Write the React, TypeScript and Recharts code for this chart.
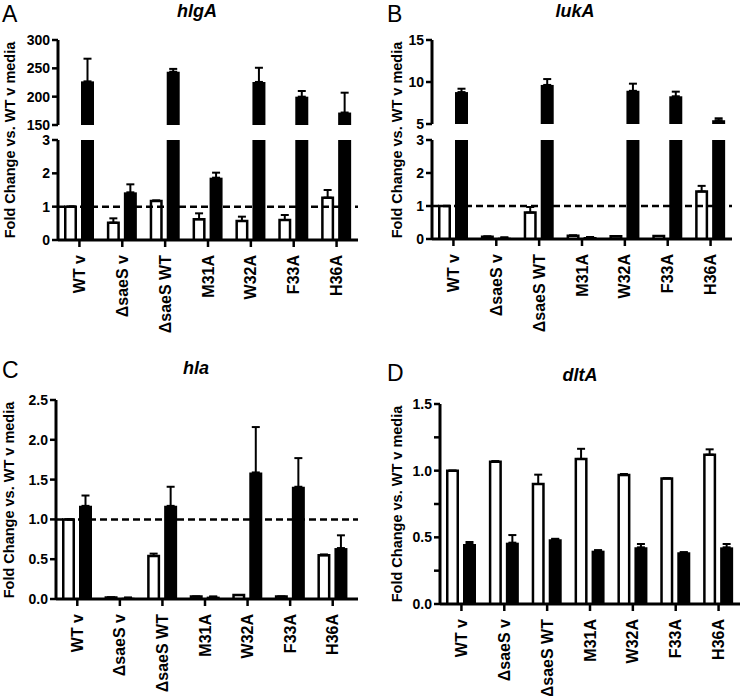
import { BarChart, Bar, XAxis, YAxis, ReferenceLine, ErrorBar } from "recharts";

const FONT = "'Liberation Sans', Arial, Helvetica, sans-serif";

const categories = ["WT v", "\u0394saeS v", "\u0394saeS WT", "M31A", "W32A", "F33A", "H36A"];

// hlgA (split axis)
const hlgaOpen = [1.0, 0.52, 1.17, 0.62, 0.57, 0.6, 1.27];
const hlgaOpenErr = [0, 0.13, 0.02, 0.18, 0.13, 0.15, 0.23];
const hlgaFilled = [227, 1.43, 244, 1.87, 226, 200, 172];
const hlgaFilledErr = [40, 0.24, 5, 0.15, 25, 10, 35];

// lukA (split axis)
const lukaOpen = [1.0, 0.07, 0.8, 0.1, 0.08, 0.09, 1.44];
const lukaOpenErr = [0, 0.01, 0.17, 0.01, 0, 0, 0.17];
const lukaFilled = [8.8, 0.04, 9.65, 0.06, 8.95, 8.3, 5.45];
const lukaFilledErr = [0.4, 0.01, 0.7, 0, 0.85, 0.55, 0.23];

// hla
const hlaOpen = [1.0, 0.02, 0.54, 0.03, 0.05, 0.03, 0.55];
const hlaOpenErr = [0, 0, 0.03, 0, 0, 0, 0.01];
const hlaFilled = [1.17, 0.017, 1.17, 0.03, 1.59, 1.41, 0.64];
const hlaFilledErr = [0.13, 0, 0.24, 0, 0.57, 0.36, 0.16];

// dltA
const dltaOpen = [1.0, 1.066, 0.9, 1.088, 0.967, 0.942, 1.12];
const dltaOpenErr = [0, 0.006, 0.07, 0.076, 0.008, 0, 0.04];
const dltaFilled = [0.45, 0.46, 0.485, 0.4, 0.425, 0.388, 0.425];
const dltaFilledErr = [0.015, 0.057, 0.004, 0.004, 0.025, 0, 0.025];

const hlgaUpperTicks = [150, 200, 250, 300];
const hlgaLowerTicks = [0, 1, 2, 3];
const lukaUpperTicks = [5, 10, 15];
const lukaLowerTicks = [0, 1, 2, 3];
const hlaTicks = [0, 0.5, 1.0, 1.5, 2.0, 2.5];
const dltaTicks = [0, 0.25, 0.5, 0.75, 1.0, 1.25, 1.5];

type Row = {
  name: string;
  open: number | null;
  openErr: [number, number] | null;
  filled: number | null;
  filledErr: [number, number] | null;
};

// bottom part of a split axis (or a whole axis): tall bars get clipped at the top
function lowerRows(open: number[], openErr: number[], filled: number[], filledErr: number[], max = Infinity): Row[] {
  return categories.map((name, i) => ({
    name,
    open: open[i],
    openErr: open[i] <= max ? [0, openErr[i]] : null,
    filled: filled[i],
    filledErr: filled[i] <= max ? [0, filledErr[i]] : null,
  }));
}

// top part of a split axis: only the bars that reach it
function upperRows(filled: number[], filledErr: number[], min: number): Row[] {
  return categories.map((name, i) => ({
    name,
    open: null,
    openErr: null,
    filled: filled[i] > min ? filled[i] : null,
    filledErr: filled[i] > min ? [0, filledErr[i]] : null,
  }));
}

// white bar with the outline kept inside the bar width, open at the base
const OpenBar = (props: any) => {
  const { x, y, width, height } = props;
  if (x == null || y == null || !width) return null;
  const top = Math.min(y, y + height);
  const bottom = Math.max(y, y + height);
  const x0 = x + 1.25;
  const x1 = x + width - 1.25;
  return (
    <path
      d={`M${x0},${bottom} L${x0},${top} L${x1},${top} L${x1},${bottom}`}
      fill="#fff"
      stroke="#000"
      strokeWidth={2.5}
    />
  );
};

const RotTick = (props: any) => {
  const { x, y, payload } = props;
  return (
    <text
      x={x}
      y={y}
      transform={`rotate(-90 ${x} ${y})`}
      textAnchor="end"
      dominantBaseline="central"
      fill="#000"
      fontSize={16}
      fontWeight="bold"
      fontFamily={FONT}
    >
      {payload.value}
    </text>
  );
};

type SectionProps = {
  plotLeft: number;
  plotTop: number;
  plotWidth: number;
  plotHeight: number;
  data: Row[];
  domain: [number, number];
  ticks: number[];
  fmt?: (v: number) => string;
  showX?: boolean;
  refLine?: boolean;
  padRight?: number;
};

const Section = ({
  plotLeft,
  plotTop,
  plotWidth,
  plotHeight,
  data,
  domain,
  ticks,
  fmt,
  showX = false,
  refLine = false,
  padRight = 0,
}: SectionProps) => {
  const yw = 50;
  const mt = 12;
  const mr = 4;
  const xh = showX ? 110 : 0;
  const mb = showX ? 0 : 8;
  const width = yw + plotWidth + mr;
  const height = mt + plotHeight + xh + mb;

  return (
    <div style={{ position: "absolute", left: plotLeft - yw, top: plotTop - mt }}>
      <BarChart
        width={width}
        height={height}
        data={data}
        margin={{ top: mt, right: mr, bottom: mb, left: 0 }}
        barSize={13}
        barGap={4}
      >
        <XAxis
          dataKey="name"
          hide={!showX}
          interval={0}
          height={xh || 1}
          padding={{ left: 0, right: padRight }}
          tickSize={7}
          tickMargin={8}
          axisLine={{ stroke: "#000", strokeWidth: 3 }}
          tickLine={{ stroke: "#000", strokeWidth: 2.5 }}
          tick={<RotTick />}
        />
        <YAxis
          type="number"
          width={yw}
          domain={domain}
          ticks={ticks}
          interval={0}
          allowDataOverflow
          tickFormatter={fmt}
          tickSize={6}
          tickMargin={2}
          axisLine={{ stroke: "#000", strokeWidth: 3 }}
          tickLine={{ stroke: "#000", strokeWidth: 2.5 }}
          tick={{ fill: "#000", fontSize: 14, fontWeight: "bold", fontFamily: FONT }}
        />
        <Bar dataKey="open" shape={OpenBar} isAnimationActive={false}>
          <ErrorBar dataKey="openErr" direction="y" width={4} strokeWidth={2} stroke="#000" />
        </Bar>
        <Bar dataKey="filled" fill="#000" isAnimationActive={false}>
          <ErrorBar dataKey="filledErr" direction="y" width={4} strokeWidth={2} stroke="#000" />
        </Bar>
        {refLine && <ReferenceLine y={1} stroke="#000" strokeWidth={2.5} strokeDasharray="7 4" />}
      </BarChart>
    </div>
  );
};

const oneDecimal = (v: number) => v.toFixed(1);
const halfSteps = (v: number) => (Math.abs(v * 2 - Math.round(v * 2)) < 1e-6 ? v.toFixed(1) : "");

const PanelText = ({
  letter,
  lx,
  ly,
  title,
  tx,
  ty,
  ax,
  ay,
}: {
  letter: string;
  lx: number;
  ly: number;
  title: string;
  tx: number;
  ty: number;
  ax: number;
  ay: number;
}) => (
  <g fontFamily={FONT} fill="#000">
    <text x={lx} y={ly} fontSize={23}>
      {letter}
    </text>
    <text x={tx} y={ty} fontSize={18} fontWeight="bold" fontStyle="italic" textAnchor="middle">
      {title}
    </text>
    <text
      x={ax}
      y={ay}
      fontSize={14.5}
      fontWeight="bold"
      textAnchor="middle"
      dominantBaseline="central"
      transform={`rotate(-90 ${ax} ${ay})`}
    >
      Fold Change vs. WT v media
    </text>
  </g>
);

export default function App() {
  return (
    <div
      style={{
        position: "absolute",
        left: 0,
        top: 0,
        width: 744,
        height: 696,
        overflow: "hidden",
        background: "#fff",
      }}
    >
      {/* A: hlgA, split axis */}
      <Section
        plotLeft={58}
        plotTop={40}
        plotWidth={300}
        plotHeight={85}
        data={upperRows(hlgaFilled, hlgaFilledErr, 150)}
        domain={[150, 300]}
        ticks={hlgaUpperTicks}
      />
      <Section
        plotLeft={58}
        plotTop={140}
        plotWidth={300}
        plotHeight={100}
        data={lowerRows(hlgaOpen, hlgaOpenErr, hlgaFilled, hlgaFilledErr, 3)}
        domain={[0, 3]}
        ticks={hlgaLowerTicks}
        showX
        refLine
      />

      {/* B: lukA, split axis */}
      <Section
        plotLeft={432}
        plotTop={40}
        plotWidth={300}
        plotHeight={84}
        data={upperRows(lukaFilled, lukaFilledErr, 5)}
        domain={[5, 15]}
        ticks={lukaUpperTicks}
      />
      <Section
        plotLeft={432}
        plotTop={140}
        plotWidth={300}
        plotHeight={99}
        data={lowerRows(lukaOpen, lukaOpenErr, lukaFilled, lukaFilledErr, 3)}
        domain={[0, 3]}
        ticks={lukaLowerTicks}
        showX
        refLine
      />

      {/* C: hla */}
      <Section
        plotLeft={56}
        plotTop={400}
        plotWidth={302}
        plotHeight={199}
        data={lowerRows(hlaOpen, hlaOpenErr, hlaFilled, hlaFilledErr)}
        domain={[0, 2.5]}
        ticks={hlaTicks}
        fmt={oneDecimal}
        padRight={4}
        showX
        refLine
      />

      {/* D: dltA */}
      <Section
        plotLeft={440}
        plotTop={404}
        plotWidth={300}
        plotHeight={200}
        data={lowerRows(dltaOpen, dltaOpenErr, dltaFilled, dltaFilledErr)}
        domain={[0, 1.5]}
        ticks={dltaTicks}
        fmt={halfSteps}
        showX
      />

      <svg
        width={744}
        height={696}
        style={{ position: "absolute", left: 0, top: 0, pointerEvents: "none" }}
      >
        <PanelText letter="A" lx={2} ly={22} title="hlgA" tx={197} ty={17} ax={10} ay={140} />
        <PanelText letter="B" lx={387} ly={22} title="lukA" tx={575} ty={17} ax={397} ay={140} />
        <PanelText letter="C" lx={2} ly={378} title="hla" tx={196} ty={374} ax={9} ay={500} />
        <PanelText letter="D" lx={387} ly={381} title="dltA" tx={580} ty={381} ax={397} ay={504} />
      </svg>
    </div>
  );
}
